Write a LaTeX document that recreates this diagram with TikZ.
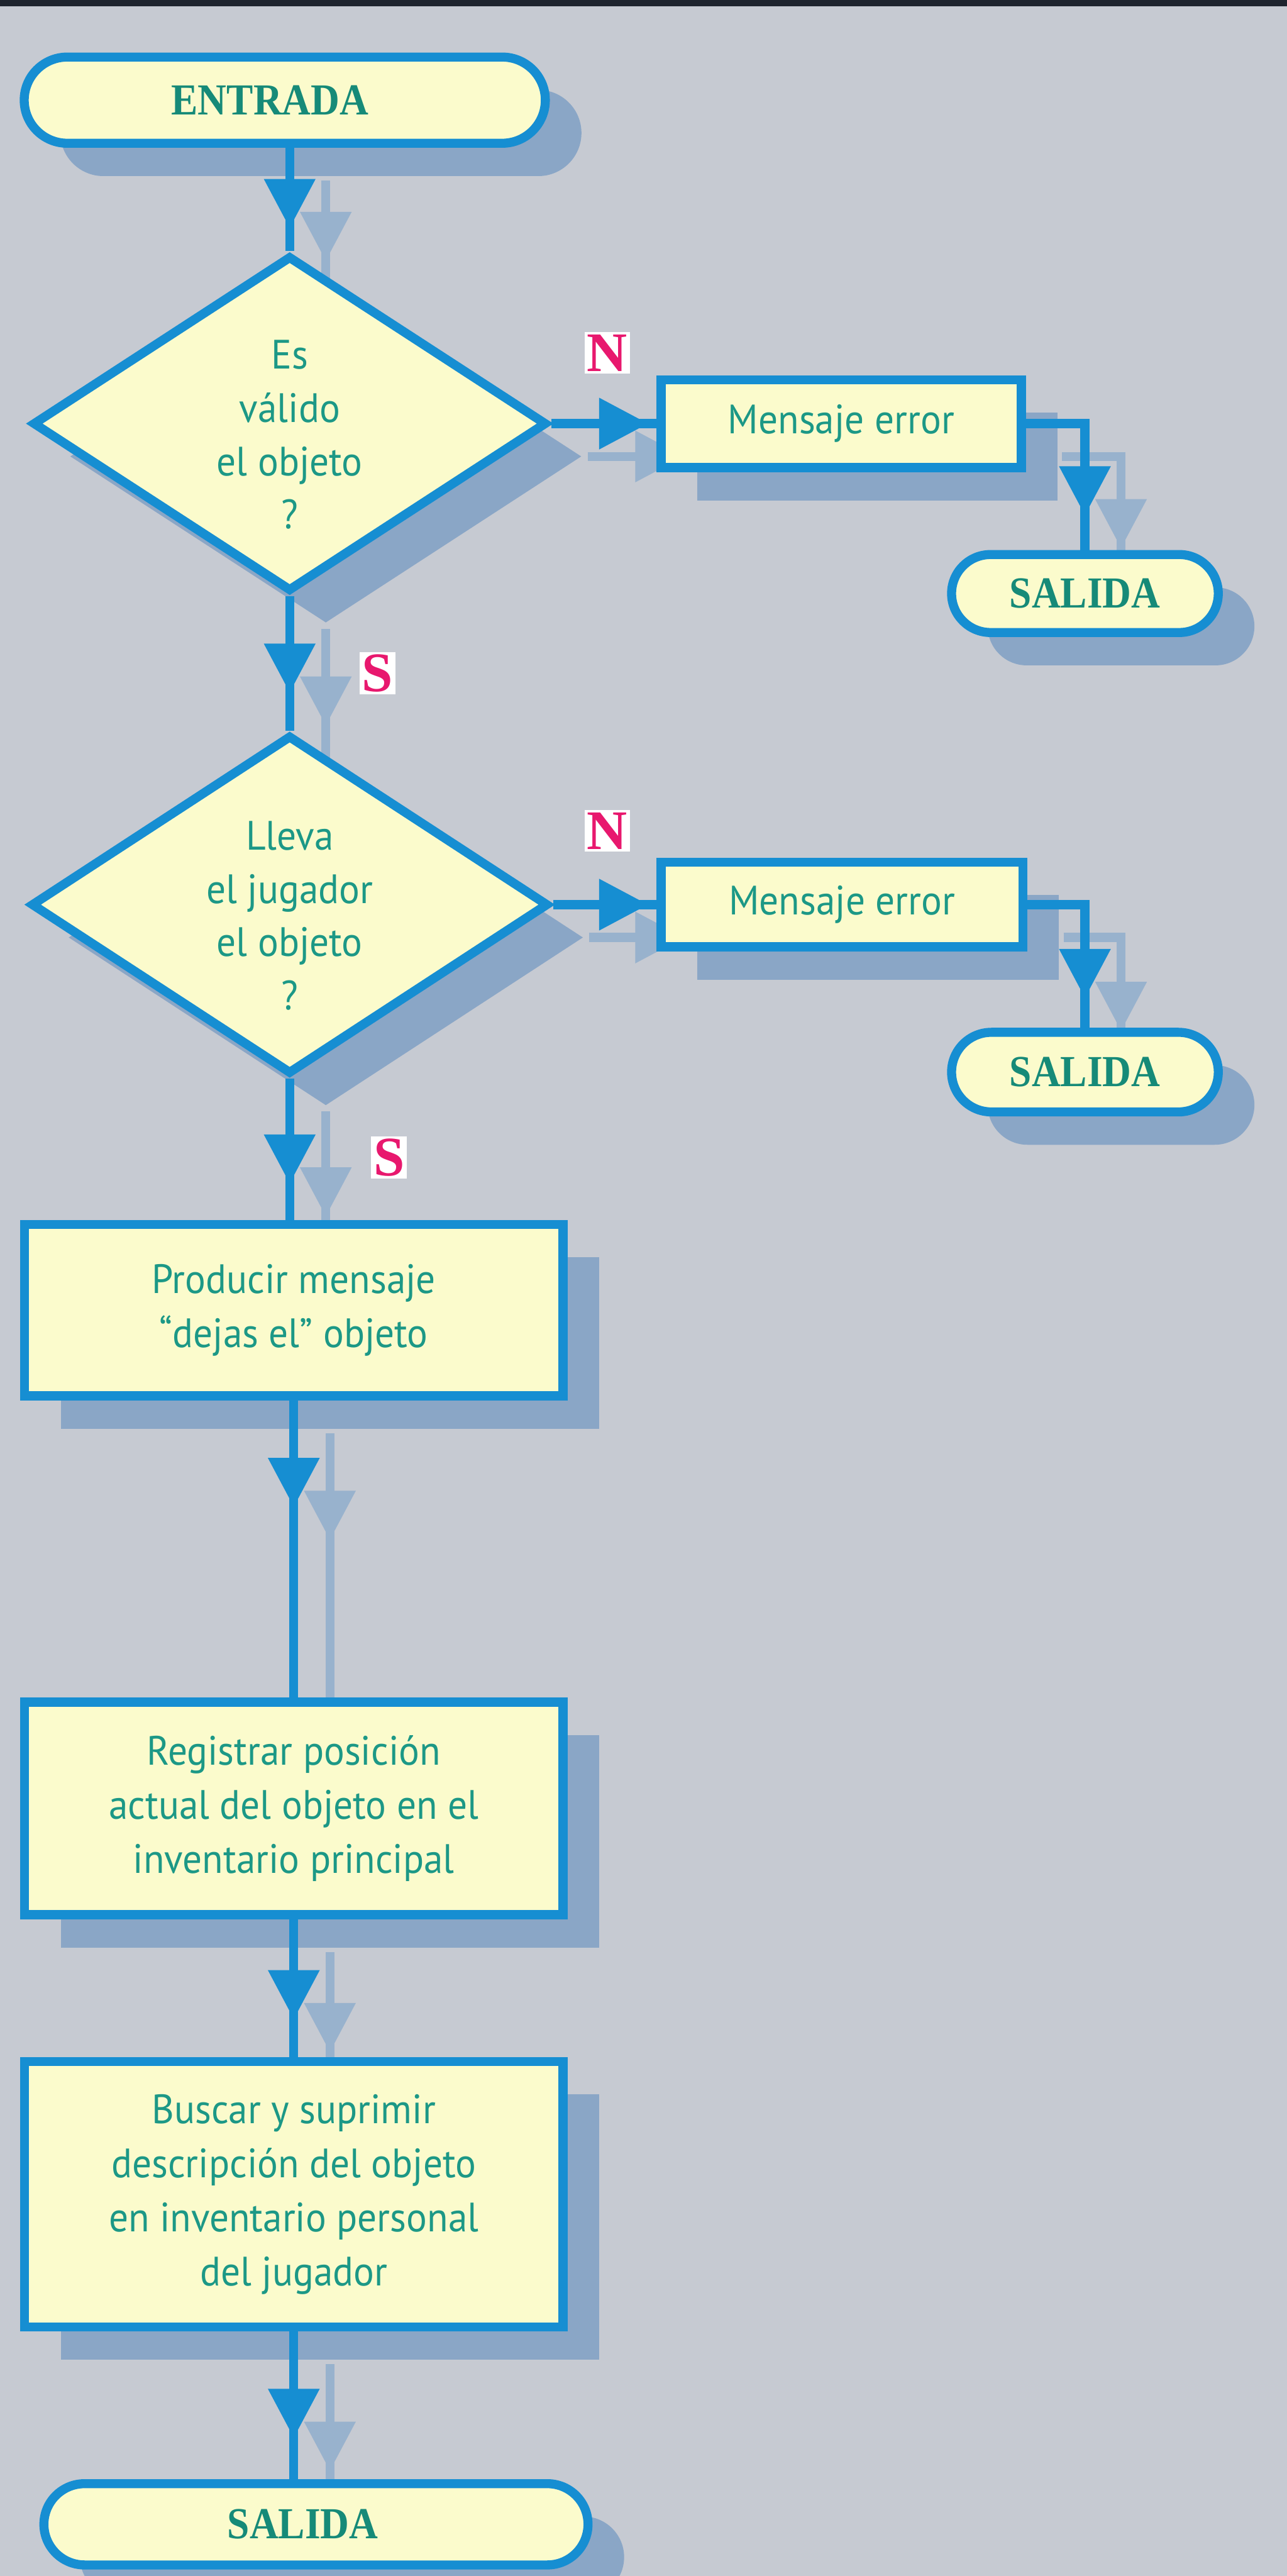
\documentclass[tikz,border=0pt]{standalone}
\usepackage{fontspec}
\setmainfont{Liberation Serif}
\newfontfamily\boxfont[FakeStretch=0.94]{PT Sans}
\newfontfamily\termfont[FakeStretch=0.9]{Liberation Serif}
\usetikzlibrary{shapes.geometric,shapes.misc,shadows,arrows.meta,decorations.markings}
\pgfdeclarelayer{back}
\pgfdeclarelayer{bg}
\pgfsetlayers{back,bg,main}
\definecolor{bgc}{RGB}{198,202,210}
\definecolor{edgec}{RGB}{22,142,210}
\definecolor{boxfill}{RGB}{251,251,204}
\definecolor{txt}{RGB}{28,152,134}
\definecolor{termtxt}{RGB}{22,138,120}
\definecolor{shd}{RGB}{138,166,198}
\definecolor{shdline}{RGB}{152,178,205}
\definecolor{lblc}{RGB}{232,24,110}
\definecolor{topbar}{RGB}{30,36,46}
\newcommand{\topstrut}{\rule{0pt}{31pt}}
\begin{document}
\begin{tikzpicture}[x=1pt,y=-1pt,
  base/.style={draw=edgec, line width=5.5pt, fill=boxfill, text=txt, inner sep=0pt, align=center,
     drop shadow={shadow xshift=22pt, shadow yshift=-20pt, fill=shd, opacity=1}},
  term/.style={base, rounded rectangle, text=termtxt, font=\termfont\bfseries\fontsize{27}{30}\selectfont},
  proc/.style={base, rectangle, font=\boxfont\fontsize{25}{33}\selectfont},
  dec/.style={base, diamond, aspect=1.55, font=\boxfont\fontsize{25}{32.5}\selectfont},
  lbl/.style={fill=white, text=lblc, inner sep=1.5pt, font=\bfseries\fontsize{34}{34}\selectfont},
  conn/.style={draw=edgec, line width=5.5pt},
  sconn/.style={draw=shdline, line width=5.5pt},
  tipat/.style={decoration={markings, mark=at position #1 with {\arrow{Triangle[length=30pt,width=30pt]}}}, postaction={decorate}},
  tf/.style={transform canvas={shift={(22pt,-20pt)}}}
]
\useasboundingbox (0,0) rectangle (784,1569);
\begin{pgfonlayer}{back}
  \fill[bgc] (0,0) rectangle (784,1569);
  \fill[topbar] (0,0) rectangle (784,4);
\end{pgfonlayer}

% nodes
\node[term, minimum width=317.5pt, minimum height=52.5pt] (ent) at (173.5,61) {ENTRADA\hspace*{18pt}};
\node[dec, minimum width=313.5pt, minimum height=204.5pt] (d1) at (176.5,258) {\topstrut Es\\válido\\el objeto\\?};
\node[proc, minimum width=219.5pt, minimum height=53.5pt] (m1) at (512.5,258) {Mensaje error};
\node[term, minimum width=162.5pt, minimum height=47.5pt] (s1) at (661,361.5) {SALIDA};
\node[dec, minimum width=315.5pt, minimum height=206.5pt] (d2) at (176.5,551) {\topstrut Lleva\\el jugador\\el objeto\\?};
\node[proc, minimum width=220.5pt, minimum height=51.5pt] (m2) at (513,551) {Mensaje error};
\node[term, minimum width=162.5pt, minimum height=48.5pt] (s2) at (661,653) {SALIDA};
\node[proc, minimum width=328pt, minimum height=104.5pt] (p1) at (179,798) {Producir mensaje\\“dejas el” objeto};
\node[proc, minimum width=328pt, minimum height=129.5pt] (p2) at (179,1101.5) {Registrar posición\\actual del objeto en el\\inventario principal};
\node[proc, minimum width=328pt, minimum height=161.5pt] (p3) at (179,1336.5) {Buscar y suprimir\\descripción del objeto\\en inventario personal\\del jugador};
\node[term, minimum width=331.5pt, minimum height=49.5pt] (s3) at (192.5,1537.5) {SALIDA\hspace*{16pt}};

% labels
\node[lbl] (n1) at (370,215) {N};
\node[lbl] (n2) at (370,506) {N};
\node[lbl] (y1) at (230,410) {S};
\node[lbl] (y2) at (237,705) {S};

% connector shadows
\begin{pgfonlayer}{bg}
  \path[sconn, tf, tipat=49pt] (ent.south -| d1.north) -- (d1.north);
  \path[sconn, tf, tipat=59pt] (d1.south) -- (d2.north);
  \path[sconn, tf, tipat=64pt] (d2.south) -- (d2.south |- p1.north);
  \path[sconn, tf, tipat=65pt] (p1.south) -- (p2.north);
  \path[sconn, tf, tipat=61pt] (p2.south) -- (p3.north);
  \path[sconn, tf, tipat=65pt] (p3.south) -- (p3.south |- s3.north);
  \path[sconn, tf, tipat=59pt] (d1.east) -- (d1.east -| m1.west);
  \path[sconn, tf, tipat=58pt] (d2.east) -- (d2.east -| m2.west);
  \path[sconn, tf, tipat=92pt] (m1.east) -| (s1.north);
  \path[sconn, tf, tipat=92pt] (m2.east) -| (s2.north);
\end{pgfonlayer}

% connectors
\path[conn, tipat=49pt] (ent.south -| d1.north) -- (d1.north);
\path[conn, tipat=59pt] (d1.south) -- (d2.north);
\path[conn, tipat=64pt] (d2.south) -- (d2.south |- p1.north);
\path[conn, tipat=65pt] (p1.south) -- (p2.north);
\path[conn, tipat=61pt] (p2.south) -- (p3.north);
\path[conn, tipat=65pt] (p3.south) -- (p3.south |- s3.north);
\path[conn, tipat=59pt] (d1.east) -- (d1.east -| m1.west);
\path[conn, tipat=58pt] (d2.east) -- (d2.east -| m2.west);
\path[conn, tipat=92pt] (m1.east) -| (s1.north);
\path[conn, tipat=92pt] (m2.east) -| (s2.north);
\end{tikzpicture}
\end{document}
